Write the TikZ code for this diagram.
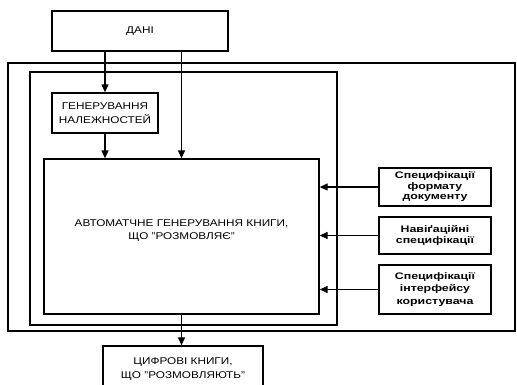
\documentclass[tikz,border=0pt]{standalone}
\usepackage{fontspec}
\setmainfont{Liberation Sans}[FakeStretch=1.2]
\newfontfamily\specfont{Liberation Sans Bold}[FakeStretch=1.3]
\usetikzlibrary{positioning,arrows.meta}

\tikzset{
  blok/.style={draw, line width=1.4pt, align=center, inner sep=1pt},
  rama/.style={draw, line width=1.4pt},
  potik/.style={->, line width=1.4pt}
}

\begin{document}
\begin{tikzpicture}[
    x=1pt, y=-1pt,
    >={Triangle[length=8pt,width=7pt]},
    every node/.style={font=\fontsize{9.8}{13.5}\selectfont}
]
\clip (0,0) rectangle (517,384);

% ========== рамки ==========
\draw[rama] (8,63) rectangle (515,331);
\draw[rama] (30,72) rectangle (337,325);

% ========== блоки ==========
\node[blok, minimum width=176pt, minimum height=40pt] (dani) at (140,31) {ДАНІ};
\node[blok, minimum width=106pt, minimum height=40pt] (gen) at (105,113) {ГЕНЕРУВАННЯ\\НАЛЕЖНОСТЕЙ};
\node[blok, minimum width=275pt, minimum height=155pt, text depth=14pt] (avto) at (181.5,236.5)
    {АВТОМАТЧНЕ ГЕНЕРУВАННЯ КНИГИ,\\ЩО "РОЗМОВЛЯЄ"};
\node[blok, minimum width=160pt, minimum height=46pt] (knygy) at (183,369)
    {ЦИФРОВІ КНИГИ,\\ЩО "РОЗМОВЛЯЮТЬ"};

% специфікації праворуч
\begin{scope}[every node/.style={font=\specfont\fontsize{9.5}{10.5}\selectfont}]
\node[blok, minimum width=112pt, minimum height=38pt] (format) at (435,187) {Специфікації\\формату\\документу};
\node[blok, minimum width=112pt, minimum height=37pt] (navig) at (435,235.5) {Навіґаційні\\специфікації};
\node[blok, minimum width=112pt, minimum height=49pt, font=\specfont\fontsize{9.5}{12.5}\selectfont] (intf) at (435,289.5) {Специфікації\\інтерфейсу\\користувача};
\end{scope}

% ========== стрілки ==========
\draw[potik] (dani.south -| gen.north) -- (gen.north);
\draw[potik] (dani.south -| avto.north) -- (avto.north);
\draw[potik] (gen.south) -- (gen.south |- avto.north);
\draw[potik] (avto.south) -- (avto.south |- knygy.north);

\draw[potik] (format.west) -- (format.west -| avto.east);
\draw[potik] (navig.west) -- (navig.west -| avto.east);
\draw[potik] (intf.west) -- (intf.west -| avto.east);

\end{tikzpicture}
\end{document}
